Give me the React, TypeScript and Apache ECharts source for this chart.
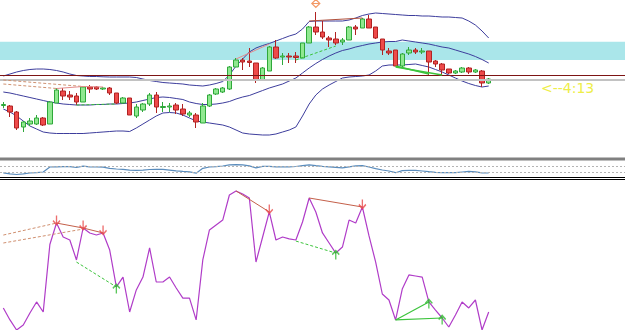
import React, { useEffect, useRef } from "react";
import * as echarts from "echarts";

// ---------- data ----------
const SLOT_COUNT = 94;
const slots: string[] = Array.from({ length: SLOT_COUNT }, (_, i) => `${i + 1}`);

// [open, close, low, high]
const candles: number[][] = [
  [54.5, 55.5, 52, 58], [54, 48, 43, 55], [48, 32, 30, 49], [33, 38, 28, 39], [36, 39, 34, 42],
  [36, 42, 35, 45], [42, 35, 34, 43], [36, 58, 36, 59], [57, 70, 57, 72], [69, 64, 60, 72],
  [65, 63, 60, 69], [64, 58, 55, 67], [58, 73, 58, 74], [73, 71, 67, 75], [73, 71, 70, 74],
  [71, 72, 70, 73], [72, 67, 65, 73], [67, 57, 56, 67], [57, 62, 56, 63], [62, 45, 45, 62],
  [44, 53, 42, 56], [50, 56, 48, 57], [56, 65, 54, 67], [65, 53, 47, 68], [52.5, 53.5, 48, 58],
  [53, 54, 48, 57], [55, 50, 46, 57], [51, 46, 44, 56], [45, 47, 43, 49], [45, 38, 32, 47],
  [37, 54, 37, 57], [54, 65, 53, 66], [66, 71, 65, 72], [68, 72, 67, 73], [71, 93, 70, 94],
  [93, 100, 93, 102], [100, 98, 90, 102], [99, 97.5, 93, 112], [97, 80, 77, 97], [80, 92, 80, 93],
  [89, 113, 89, 114], [113, 102, 101, 120], [103, 104, 95, 107], [104, 103, 97, 107], [104, 102.5, 97, 108],
  [102, 117, 102, 117], [117, 133, 117, 134], [133, 128, 125, 148], [128, 123, 121, 139], [122, 120, 113, 124],
  [121, 117, 115, 128], [118, 120, 115, 122], [120, 133, 120, 134], [133, 131, 125, 135], [132, 141, 132, 142],
  [141, 132, 132, 145], [133, 122, 121, 133], [121, 110, 105, 121], [109, 107, 105, 112], [110, 94, 94, 110],
  [94, 106, 93, 107], [107, 110, 105, 113], [110, 108, 106, 112], [108, 109, 106, 112], [109, 98, 85, 109],
  [99, 96, 93, 100], [96, 90, 85, 97], [91, 87, 86, 91], [87, 89, 86, 90], [88, 92, 87, 93],
  [92, 88, 86, 93], [88, 90, 87, 91], [89, 77, 73, 90], [77, 81, 76, 82],
];

const bandUpper: number[] = [
  84, 86, 88, 89.5, 90.5, 91, 91, 90.5, 89.5, 88,
  86, 84.5, 84, 83.5, 83.5, 83.2, 83, 83, 83, 83,
  82.5, 81, 79.5, 78.5, 77.5, 77, 76.5, 76, 75, 74.5,
  74, 75, 76.5, 78.5, 85, 94, 101, 108, 112, 114.5,
  116.5, 119, 121.5, 124, 126, 131, 138.5, 139, 139, 139,
  139, 139, 140, 142, 144.5, 146, 147, 146.5, 146, 145.5,
  145, 144.5, 144.5, 144, 144, 143.5, 143, 143, 142.5, 142,
  139, 135, 129, 122,
];
const bandMiddle: number[] = [
  68, 67, 65.5, 64, 62.5, 61, 59.5, 58, 57, 56,
  55.5, 55, 55, 55, 55.5, 55.5, 56, 56, 56.5, 57,
  58, 59.5, 61, 62.5, 63, 62.5, 61.5, 60.5, 58, 56.5,
  55.5, 55.5, 56, 57, 58.5, 61, 63, 64.5, 67, 69.5,
  72, 74, 76, 79, 82, 87, 92, 96.5, 100.5, 104,
  107, 109.5, 111, 113, 114.5, 116, 117, 118, 118.5, 118.5,
  120, 119, 118, 117, 116, 114.5, 113, 112, 110, 108,
  106, 103.5, 100.5, 97,
];
const bandLower: number[] = [
  51, 48, 44, 39, 34, 31, 28, 27, 26.5, 26.5,
  26.5, 26.5, 26.5, 27, 27.5, 28, 28.5, 29, 29, 28.5,
  32, 36, 40, 44, 47, 47.5, 47, 45, 42, 39,
  38, 37, 36, 35, 33, 30, 27, 26, 25.5, 25,
  25, 26, 28, 30, 33, 44, 56, 65, 71, 75,
  78.5, 82, 83, 83.5, 84, 85, 89, 94, 95, 95,
  95, 95.5, 96, 94.5, 93, 90.5, 88, 85, 82, 79,
  76.5, 74.5, 73, 74,
];

const resistanceLevel = 84.3;
const supportLevel = 80.5;
const zoneLow = 100;
const zoneHigh = 118.3;

// price-panel trend lines: [slot index, price]
const priceDashedBrown = [[[0, 80], [12, 73.5]], [[0, 76], [8, 71.5]]];
const priceSolidPink = [[[8, 71.5], [12, 73.5], [15, 73]], [[35, 101], [40, 116]]];
const priceDashedGreen = [[[11, 55], [17, 56]], [[44, 100], [50, 114]]];
const priceSolidBrown = [[[46, 139], [54, 142]]];
const priceSolidGreen = [[[59, 94], [64, 86]], [[59, 93], [66, 85]]];
const priceSignal = [[47, 156.5]];

// middle oscillator
const oscillator: number[] = [
  24.7, 18, 13.3, 18, 23.3, 25.3, 30, 63.3, 64.7, 65.3,
  65.3, 60, 68.7, 64.7, 63.3, 62, 54, 50, 47.3, 42.7,
  41.3, 42, 46.7, 48, 47.3, 42.7, 38, 34, 30.7, 22,
  54.7, 63.3, 66, 70, 78, 78.7, 78, 71.3, 57.3, 67.3,
  68, 64.7, 64, 64.7, 66.7, 72.7, 78, 72, 67.3, 64,
  60.7, 57.3, 64, 71.3, 72.7, 63.3, 52, 43.3, 36.7, 25.3,
  39.3, 41.3, 41.3, 36.7, 32, 28, 25.3, 25.3, 25.3, 30,
  34.7, 31.3, 24, 23.3,
];
const oscLevels = [70, 30];

// lower oscillator
const rsiLine: number[] = [
  14.7, 6.7, 0, 3.3, 11.3, 18.7, 12, 57, 71.3, 62,
  60, 46.7, 68, 64.7, 63.3, 64.7, 53.3, 28.7, 35.3, 12,
  26.7, 35.3, 54.7, 32, 32, 35.3, 28, 21.3, 21.3, 6.7,
  46.7, 66.7, 70, 73.3, 90, 92.7, 90.7, 88, 45.3, 62,
  78.7, 60, 62, 60.7, 60, 72, 88, 78.7, 64.7, 58,
  51.3, 55.3, 73.3, 71.3, 82, 62.7, 45.3, 24, 20, 6.7,
  27.3, 36.7, 36, 35.3, 18.7, 13.3, 8, 2, 10, 18.7,
  14.7, 20, 0, 12,
];
const rsiDashedBrown = [[[0, 63.3], [8, 71.3]], [[0, 58], [12, 67.3]]];
const rsiSolidBrown = [[[8, 71.3], [12, 68], [15, 64.7]], [[35, 92.7], [40, 78.7]], [[46, 88], [54, 82]]];
const rsiDashedGreen = [[[11, 45.3], [17, 28.7]], [[44, 59.3], [50, 51.3]]];
const rsiSolidGreen = [[[59, 6.7], [64, 18.7]], [[59, 6.7], [66, 8]]];
const rsiPeakMarks = [[8, 71.3], [12, 68], [15, 64.7], [40, 78.7], [54, 82]];
const rsiTroughMarks = [[17, 28.7], [50, 51.3], [64, 18.7], [66, 8]];

const timerText = "<--4:13";

// ---------- helpers ----------
function segSeries(segs: number[][][], g: number, color: string, type: any, width: number, z: number) {
  return segs.map((seg) => ({
    type: "line",
    xAxisIndex: g,
    yAxisIndex: g,
    data: seg,
    symbol: "none",
    showSymbol: false,
    silent: true,
    lineStyle: { color, type, width },
    z,
  }));
}

function bandSeries(data: number[]) {
  return {
    type: "line",
    xAxisIndex: 0,
    yAxisIndex: 0,
    data,
    symbol: "none",
    showSymbol: false,
    silent: true,
    lineStyle: { color: "#3d3d9c", width: 1 },
    z: 3,
  };
}

export default function App() {
  const ref = useRef<HTMLDivElement>(null);

  useEffect(() => {
    if (!ref.current) return;
    const chart = echarts.init(ref.current, undefined, { renderer: "svg" });
    const grids = [
      { left: -2, width: 627, top: 0, height: 155 },
      { left: -2, width: 627, top: 161.5, height: 15 },
      { left: -2, width: 627, top: 180, height: 150 },
    ];
    const option: any = {
      animation: false,
      backgroundColor: "#ffffff",
      grid: grids,
      xAxis: grids.map((_, g) => ({
        type: "category",
        gridIndex: g,
        data: slots,
        boundaryGap: true,
        show: false,
      })),
      yAxis: [
        { type: "value", gridIndex: 0, min: 5, max: 160, show: false },
        { type: "value", gridIndex: 1, min: 0, max: 100, show: false },
        { type: "value", gridIndex: 2, min: 0, max: 100, show: false },
      ],
      series: [
        {
          type: "candlestick",
          xAxisIndex: 0,
          yAxisIndex: 0,
          data: candles,
          barWidth: 5,
          z: 4,
          itemStyle: {
            color: "#90e890",
            color0: "#ee4a4a",
            borderColor: "#2fa83a",
            borderColor0: "#b02222",
            borderWidth: 1,
          },
          markArea: {
            silent: true,
            itemStyle: { color: "#aae6ea" },
            data: [[{ yAxis: zoneLow }, { yAxis: zoneHigh }]],
          },
          markLine: {
            silent: true,
            symbol: "none",
            label: { show: false },
            data: [
              { yAxis: resistanceLevel, lineStyle: { color: "#7d1414", width: 1, type: "solid" } },
              { yAxis: supportLevel, lineStyle: { color: "#c2c2c2", width: 2, type: "solid" } },
            ],
          },
        },
        bandSeries(bandUpper),
        bandSeries(bandMiddle),
        bandSeries(bandLower),
        ...segSeries(priceDashedBrown, 0, "#cf9272", [3, 2], 1, 5),
        ...segSeries(priceSolidPink, 0, "#e48c8c", "solid", 1, 5),
        ...segSeries(priceDashedGreen, 0, "#3cc43c", [3, 2], 1, 5),
        ...segSeries(priceSolidBrown, 0, "#b0503c", "solid", 1, 5),
        ...segSeries(priceSolidGreen, 0, "#3cc43c", "solid", 1.5, 5),
        {
          type: "scatter",
          xAxisIndex: 0,
          yAxisIndex: 0,
          data: priceSignal,
          symbol: "path://M4 0L8 4L4 8L0 4Z M0 4H8",
          symbolSize: [8, 8],
          silent: true,
          itemStyle: { color: "transparent", borderColor: "#f08040", borderWidth: 1.2 },
          z: 6,
        },
        {
          type: "line",
          xAxisIndex: 1,
          yAxisIndex: 1,
          data: oscillator,
          symbol: "none",
          showSymbol: false,
          silent: true,
          lineStyle: { color: "#5a8cbc", width: 1.2 },
          z: 3,
          markLine: {
            silent: true,
            symbol: "none",
            label: { show: false },
            lineStyle: { color: "#b4b4b4", width: 1, type: [2, 2] },
            data: oscLevels.map((v) => ({ yAxis: v })),
          },
        },
        {
          type: "line",
          xAxisIndex: 2,
          yAxisIndex: 2,
          data: rsiLine,
          symbol: "none",
          showSymbol: false,
          silent: true,
          lineStyle: { color: "#b03cc8", width: 1.2 },
          z: 3,
        },
        ...segSeries(rsiDashedBrown, 2, "#d09070", [3, 2], 1, 4),
        ...segSeries(rsiSolidBrown, 2, "#c4604a", "solid", 1, 4),
        ...segSeries(rsiDashedGreen, 2, "#3cc43c", [3, 2], 1, 4),
        ...segSeries(rsiSolidGreen, 2, "#3cc43c", "solid", 1.2, 4),
        {
          type: "scatter",
          xAxisIndex: 2,
          yAxisIndex: 2,
          data: rsiPeakMarks,
          symbol: "path://M4 0V9M0 5L4 9L8 5",
          symbolSize: [7, 9],
          symbolOffset: [0, -3],
          silent: true,
          itemStyle: { color: "transparent", borderColor: "#e84a4a", borderWidth: 1.5 },
          z: 6,
        },
        {
          type: "scatter",
          xAxisIndex: 2,
          yAxisIndex: 2,
          data: rsiTroughMarks,
          symbol: "path://M4 10V1M0 5L4 1L8 5",
          symbolSize: [7, 9],
          symbolOffset: [0, 2],
          silent: true,
          itemStyle: { color: "transparent", borderColor: "#30b830", borderWidth: 1.5 },
          z: 6,
        },
      ],
      graphic: [
        { type: "rect", shape: { x: 0, y: 157.5, width: 625, height: 3 }, style: { fill: "#808080" }, silent: true },
        { type: "line", shape: { x1: 0, y1: 177.5, x2: 625, y2: 177.5 }, style: { stroke: "#000000", lineWidth: 1 }, silent: true },
        { type: "line", shape: { x1: 0, y1: 179.5, x2: 625, y2: 179.5 }, style: { stroke: "#000000", lineWidth: 1 }, silent: true },
        {
          type: "text",
          x: 541,
          y: 88,
          silent: true,
          style: {
            text: timerText,
            fill: "#eeee48",
            font: '14px "DejaVu Sans"',
            verticalAlign: "middle",
            align: "left",
          },
        },
      ],
    };
    chart.setOption(option);
    return () => chart.dispose();
  }, []);

  return (
    <div
      ref={ref}
      style={{ position: "absolute", left: 0, top: 0, width: 625, height: 330, background: "#ffffff" }}
    />
  );
}
